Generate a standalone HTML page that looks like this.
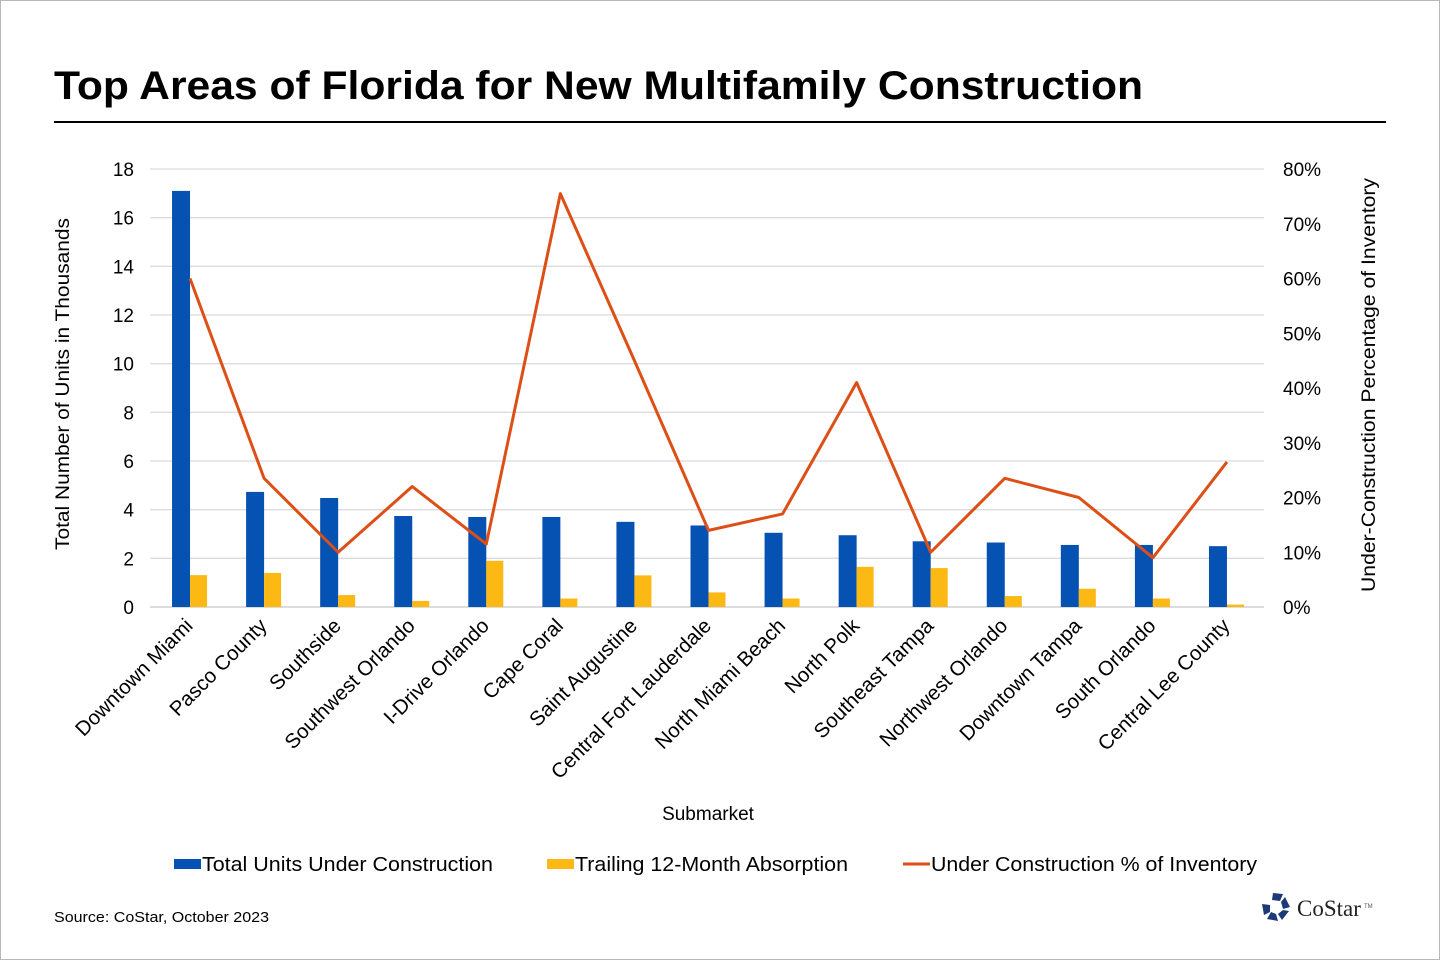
<!DOCTYPE html>
<html><head><meta charset="utf-8"><style>
body{margin:0;background:#fff;}
#wrap{position:relative;width:1440px;height:960px;box-sizing:border-box;border:1px solid #b8b8b8;font-family:"Liberation Sans",Arial,sans-serif;}
svg text{font-family:"Liberation Sans",Arial,sans-serif;}
</style></head><body>
<div id="wrap">
<svg id="chart" width="1438" height="958" viewBox="1 1 1438 958">
<text x="54" y="99" font-size="40" font-weight="bold" fill="#000" textLength="1089" lengthAdjust="spacingAndGlyphs">Top Areas of Florida for New Multifamily Construction</text>
<line x1="54" y1="122" x2="1386" y2="122" stroke="#000" stroke-width="2"/>
<g id="grid"></g>
<g id="bars"></g>
<g id="line"></g>
<g id="ticks"></g>
<text transform="translate(69,384) rotate(-90)" text-anchor="middle" font-size="19" textLength="332" lengthAdjust="spacingAndGlyphs">Total Number  of Units in Thousands</text>
<text transform="translate(1375,385) rotate(-90)" text-anchor="middle" font-size="19" textLength="414" lengthAdjust="spacingAndGlyphs">Under-Construction  Percentage of Inventory</text>
<text x="708" y="820" text-anchor="middle" font-size="19">Submarket</text>
<g>
<rect x="174" y="859" width="27" height="10" fill="#0652b2"/>
<text x="202" y="871" font-size="20" textLength="291" lengthAdjust="spacingAndGlyphs">Total Units Under Construction</text>
<rect x="547" y="859" width="27" height="10" fill="#fdb913"/>
<text x="575" y="871" font-size="20" textLength="273" lengthAdjust="spacingAndGlyphs">Trailing 12-Month Absorption</text>
<line x1="903" y1="864" x2="930" y2="864" stroke="#dd4f16" stroke-width="3"/>
<text x="931" y="871" font-size="20" textLength="326" lengthAdjust="spacingAndGlyphs">Under Construction % of Inventory</text>
</g>
<text x="54" y="922" font-size="15" textLength="215" lengthAdjust="spacingAndGlyphs">Source: CoStar, October 2023</text>
<g>
<g transform="translate(1276,907)" fill="#1d3a78">
<polygon points="-3,-14 7,-13 4,-6 -4,-7"/>
<polygon points="9,-10 14,0 7,2 5,-5"/>
<polygon points="13,4 6,13 2,7 7,3"/>
<polygon points="2,14 -9,12 -5,5 0,7"/>
<polygon points="-12,8 -14,-3 -6,-2 -6,5"/>
</g>
<text x="1297" y="916" font-size="23" fill="#222" style="font-family:'Liberation Serif',serif">CoStar</text>
<text x="1364" y="908" font-size="6" fill="#555">TM</text>
</g>
</svg>
</div>
<script>
const categories=["Downtown Miami","Pasco County","Southside","Southwest Orlando","I-Drive Orlando","Cape Coral","Saint Augustine","Central Fort Lauderdale","North Miami Beach","North Polk","Southeast Tampa","Northwest Orlando","Downtown Tampa","South Orlando","Central Lee County"];
const unitsUnderConstruction=[17.1,4.73,4.48,3.74,3.7,3.7,3.5,3.35,3.05,2.95,2.7,2.65,2.55,2.55,2.5];
const absorption=[1.31,1.4,0.49,0.25,1.9,0.35,1.3,0.6,0.35,1.65,1.6,0.45,0.75,0.35,0.1];
const pctInventory=[60,23.5,10,22,11.5,75.5,45,14,17,41,10,23.5,20,9,26.5];
const leftTicks=[0,2,4,6,8,10,12,14,16,18];
const rightTicks=[0,10,20,30,40,50,60,70,80];
const NS="http://www.w3.org/2000/svg";
const X0=153,X1=1264,Y0=607,Y1=169;
const step=(X1-X0)/categories.length;
function xc(i){return X0+step*(i+0.5);}
function yL(v){return Y0-(v/18)*(Y0-Y1);}
function yR(v){return Y0-(v/80)*(Y0-Y1);}
function mk(tag,attrs,parent){const e=document.createElementNS(NS,tag);for(const k in attrs)e.setAttribute(k,attrs[k]);document.getElementById(parent).appendChild(e);return e;}
leftTicks.forEach(t=>{
 const g=mk('line',{x1:X0-3,x2:X1,y1:yL(t),y2:yL(t),stroke:t===0?'#c8c8c8':'#dcdcdc','stroke-width':1.3},'grid');
 
 
 const l=mk('text',{x:134,y:yL(t)+7,'text-anchor':'end','font-size':19},'ticks');l.textContent=t;
 
 
});
rightTicks.forEach(t=>{
 const l=mk('text',{x:1283,y:yR(t)+7,'font-size':19},'ticks');l.textContent=t+'%';
 
 
});
categories.forEach((c,i)=>{
 const x=xc(i);
 const b=mk('rect',{x:x-18,y:yL(unitsUnderConstruction[i]),width:18,height:Y0-yL(unitsUnderConstruction[i]),fill:'#0652b2'},'bars');
 
 
 const a=mk('rect',{x:x,y:yL(absorption[i]),width:17,height:Y0-yL(absorption[i]),fill:'#fdb913'},'bars');
 
 
 const l=mk('text',{transform:`translate(${x+4},${627}) rotate(-45)`,'text-anchor':'end','font-size':20.5},'ticks');l.textContent=c;
 
 
});
const pts=pctInventory.map((v,i)=>xc(i)+','+yR(v)).join(' ');
const pl=mk('polyline',{points:pts,fill:'none',stroke:'#dd4f16','stroke-width':3,'stroke-linejoin':'round'},'line');


</script>
</body></html>
